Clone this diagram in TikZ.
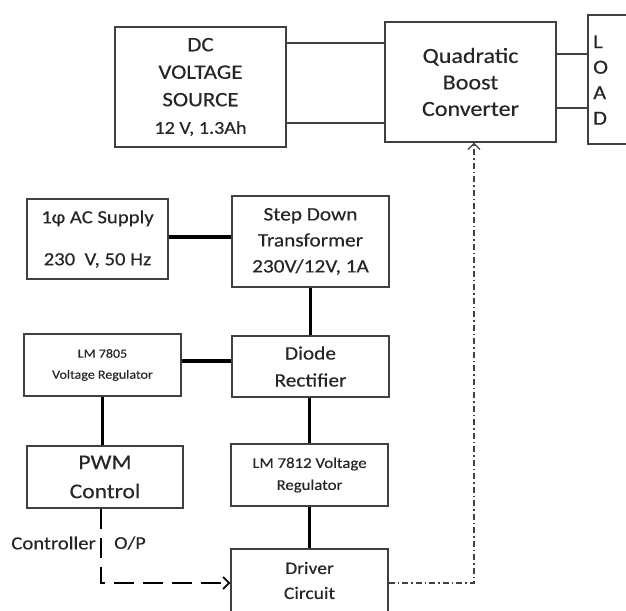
\documentclass[tikz,border=0pt]{standalone}
\usepackage{fontspec}
\setmainfont{Carlito}[FakeStretch=1.12, FakeBold=0.35]
\usepackage{xcolor}
\usetikzlibrary{arrows.meta}
\definecolor{ink}{HTML}{262626}
\definecolor{frame}{HTML}{404040}

\begin{document}
\begin{tikzpicture}[x=1pt, y=-1pt,
    every node/.style={text=ink, align=center, inner sep=0pt},
    box/.style={draw=frame, line width=1.4pt},
    wire/.style={frame, line width=1.3pt},
    bus/.style={black, line width=3.5pt}]
    \useasboundingbox (0,0) rectangle (626,610);
    \node[box, minimum width=171pt, minimum height=120pt, font=\fontsize{20.5}{27.5}\selectfont] (src) at (200.5,87) {DC\\VOLTAGE\\SOURCE\\{\fontsize{18}{20}\selectfont 12 V, 1.3Ah}};
    \node[box, minimum width=171pt, minimum height=120pt, font=\fontsize{21.5}{26.5}\selectfont] (qbc) at (470.5,82) {Quadratic\\Boost\\Converter};
    \node[box, minimum width=52pt, minimum height=129pt] (load) at (614,79.5) {};
    \node[anchor=west, align=left, font=\fontsize{20}{25.5}\selectfont] (loadtxt) at (593,80) {L\\O\\A\\D};
    \node[box, minimum width=141pt, minimum height=80pt, font=\fontsize{18.5}{42}\selectfont] (ac) at (97.5,239) {1φ AC Supply\\230~ V, 50 Hz};
    \node[box, minimum width=157pt, minimum height=91pt, font=\fontsize{19}{26}\selectfont] (sdt) at (310.5,241.5) {Step Down\\Transformer\\230V/12V, 1A};
    \node[box, minimum width=157pt, minimum height=62pt, font=\fontsize{12.5}{21}\selectfont] (lm05) at (102.5,365) {LM 7805\\Voltage Regulator};
    \node[box, minimum width=157pt, minimum height=61pt, font=\fontsize{19}{27}\selectfont] (diode) at (310.5,366.5) {Diode\\Rectifier};
    \node[box, minimum width=156pt, minimum height=62pt, font=\fontsize{21}{29}\selectfont] (pwm) at (105,477) {PWM\\Control};
    \node[box, minimum width=157pt, minimum height=62pt, font=\fontsize{15}{22}\selectfont] (lm12) at (309.5,475) {LM 7812 Voltage\\Regulator};
    \node[box, minimum width=157pt, minimum height=63pt, font=\fontsize{17.5}{25}\selectfont] (driver) at (309.5,580.5) {Driver\\Circuit};
    \draw[wire] (src.east |- 0,43) -- (qbc.west |- 0,43);
    \draw[wire] (src.east |- 0,123) -- (qbc.west |- 0,123);
    \draw[wire] (qbc.east |- 0,54) -- (load.west |- 0,54);
    \draw[wire] (qbc.east |- 0,108) -- (load.west |- 0,108);
    \draw[bus] (ac.east |- 0,237) -- (sdt.west |- 0,237);
    \draw[bus] (sdt.south) -- (diode.north);
    \draw[bus] (lm05.east |- 0,361) -- (diode.west |- 0,361);
    \draw[bus] (lm05.south) -- (pwm.north -| lm05.south);
    \draw[bus] (lm12.north) -- (lm12.north |- diode.south);
    \draw[bus] (lm12.south) -- (driver.north);
    \coordinate (bend) at (101,583);
    \coordinate (turn) at (474,583);
    \draw[black, line width=1.8pt, dash pattern=on 20pt off 9pt, -{Straight Barb[length=6pt, width=12pt]}] (pwm.south -| bend) -- (bend) -- (driver.west |- bend);
    \draw[frame, line width=1.2pt, dash pattern=on 6pt off 3pt on 1.5pt off 3pt, -{Straight Barb[length=6pt, width=12pt]}] (driver.east |- turn) -- (turn) -- (turn |- qbc.south);
    \node[anchor=east, font=\fontsize{18.5}{20}\selectfont] (ctrl) at (96,543) {Controller};
    \node[anchor=west, font=\fontsize{18}{20}\selectfont] (op) at (114,543) {O/P};
\end{tikzpicture}
\end{document}
